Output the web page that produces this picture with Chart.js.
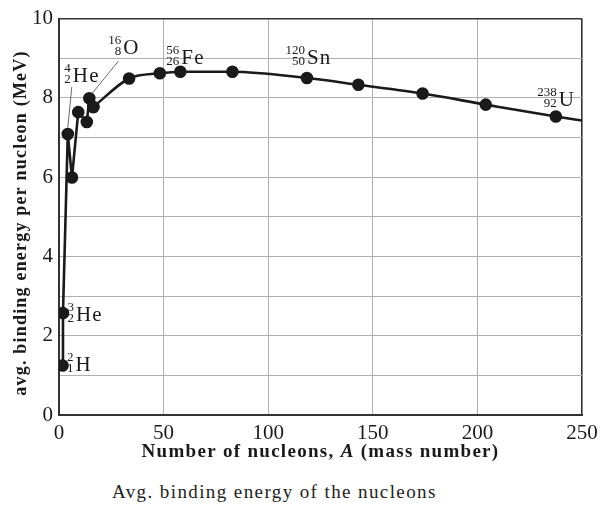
<!DOCTYPE html>
<html>
<head>
<meta charset="utf-8">
<script src="https://cdn.jsdelivr.net/npm/chart.js"></script>
<style>
  html, body { margin: 0; padding: 0; background: #fff; }
  #wrap { position: relative; width: 604px; height: 507px; }
  #caption {
    position: absolute; left: 112px; top: 481px;
    font-family: "Liberation Serif", "DejaVu Serif", serif;
    font-size: 19px; letter-spacing: 1.4px; color: #222; white-space: nowrap;
  }
</style>
</head>
<body>
<div id="wrap">
  <canvas id="bind" width="604" height="470"></canvas>
  <div id="caption">Avg. binding energy of the nucleons</div>
</div>
<script>
// values
const massNumbers = [1.7, 1.9, 4.2, 6.2, 9.2, 13.3, 14.5, 16.4, 33.5, 48.2, 58, 82.9, 118.5, 143.1, 173.8, 204, 237.5, 250];
const bindingEnergy = [1.25, 2.57, 7.09, 5.99, 7.64, 7.39, 7.99, 7.77, 8.49, 8.62, 8.66, 8.66, 8.5, 8.33, 8.11, 7.83, 7.53, 7.43];

// isotope labels: which point they belong to
const isoSymbol = ['H', 'He', 'He', 'O', 'Fe', 'Sn', 'U'];
const isoMass = ['2', '3', '4', '16', '56', '120', '238'];
const isoZ = ['1', '2', '2', '8', '26', '50', '92'];
const isoPoint = [0, 1, 2, 6, 10, 12, 16];

const xTicks = [0, 50, 100, 150, 200, 250];
const yTicks = [0, 2, 4, 6, 8, 10];

const xTitle = [['Number of nucleons, ', 'bold'], ['A', 'italic bold'], [' (mass number)', 'bold']];
const yTitle = 'avg. binding energy per nucleon (MeV)';

const splitAt = 7; // straight segments below, smooth curve above
const pts = massNumbers.map((a, i) => ({ x: a, y: bindingEnergy[i] }));
const lastIdx = pts.length - 1;

const serif = '"Liberation Serif", "DejaVu Serif", serif';
const ink = '#1a1a1a';

// label placement relative to each point: [dx to right edge of numbers, dy to symbol baseline, leader]
const labelOffsets = [
  [11, 6, null],
  [11, 8, null],
  [3, -52, [4, -47, 0, -6]],
  [32, -44, [29, -37, 2, -4]],
  [-1, -8, null],
  [-2, -14, null],
  [1, -11, null]
];

function spaced(ctx, px) {
  if ('letterSpacing' in ctx) ctx.letterSpacing = px + 'px';
}

const annotations = {
  id: 'annotations',
  afterDraw(chart) {
    const { ctx, scales, chartArea } = chart;
    ctx.save();
    ctx.fillStyle = ink;
    ctx.textBaseline = 'alphabetic';

    // isotope labels
    isoSymbol.forEach((sym, i) => {
      const p = pts[isoPoint[i]];
      const px = scales.x.getPixelForValue(p.x);
      const py = scales.y.getPixelForValue(p.y);
      const [dx, dy, lead] = labelOffsets[i];
      const nx = px + dx, base = py + dy;
      if (lead) {
        ctx.strokeStyle = '#444';
        ctx.lineWidth = 0.8;
        ctx.beginPath();
        ctx.moveTo(px + lead[0], py + lead[1]);
        ctx.lineTo(px + lead[2], py + lead[3]);
        ctx.stroke();
      }
      spaced(ctx, 0);
      ctx.font = '13px ' + serif;
      ctx.textAlign = 'right';
      ctx.fillText(isoMass[i], nx, base - 10);
      ctx.fillText(isoZ[i], nx, base + 1);
      spaced(ctx, 1.2);
      ctx.font = '21px ' + serif;
      ctx.textAlign = 'left';
      ctx.fillText(sym, nx + 2, base);
    });

    // x axis title with italic A
    spaced(ctx, 1.3);
    ctx.textAlign = 'left';
    let total = 0;
    const widths = xTitle.map(([t, w]) => {
      ctx.font = w + ' 19px ' + serif;
      const m = ctx.measureText(t).width;
      total += m;
      return m;
    });
    let x = (chartArea.left + chartArea.right) / 2 - total / 2;
    xTitle.forEach(([t, w], i) => {
      ctx.font = w + ' 19px ' + serif;
      ctx.fillText(t, x, 457);
      x += widths[i];
    });

    // y axis title
    spaced(ctx, 1.2);
    ctx.font = 'bold 18px ' + serif;
    ctx.textAlign = 'center';
    ctx.translate(26, 223);
    ctx.rotate(-Math.PI / 2);
    ctx.fillText(yTitle, 0, 0);
    ctx.restore();
  }
};

new Chart(document.getElementById('bind'), {
  type: 'line',
  data: {
    datasets: [
      {
        data: pts.slice(0, splitAt + 1),
        borderColor: ink,
        borderWidth: 2.6,
        tension: 0,
        pointRadius: 5,
        pointBackgroundColor: ink,
        pointBorderColor: ink
      },
      {
        data: pts.slice(splitAt),
        borderColor: ink,
        borderWidth: 2.6,
        cubicInterpolationMode: 'monotone',
        pointRadius: ctx => (ctx.dataIndex + splitAt === lastIdx ? 0 : 5),
        pointBackgroundColor: ink,
        pointBorderColor: ink
      }
    ]
  },
  options: {
    responsive: false,
    animation: false,
    layout: { padding: { top: 16, right: 22, left: 0, bottom: 0 } },
    plugins: { legend: { display: false }, tooltip: { enabled: false } },
    scales: {
      x: {
        type: 'linear',
        min: 0,
        max: 250,
        afterFit: s => { s.height = 55; },
        afterBuildTicks: s => { s.ticks = xTicks.map(v => ({ value: v })); },
        ticks: { padding: 6, color: ink, font: { family: serif, size: 21 } },
        grid: {
          drawTicks: false,
          color: c => (c.tick && c.tick.value === 250 ? '#333' : '#b0b0b0'),
          lineWidth: c => (c.tick && c.tick.value === 250 ? 1.6 : 1)
        },
        border: { color: '#333', width: 2 }
      },
      y: {
        min: 0,
        max: 10,
        afterFit: s => { s.width = 59; },
        ticks: {
          stepSize: 1,
          padding: 6,
          color: ink,
          font: { family: serif, size: 21 },
          callback: v => (yTicks.includes(v) ? v : '')
        },
        grid: {
          drawTicks: false,
          color: c => (c.tick && c.tick.value === 10 ? '#333' : '#b0b0b0'),
          lineWidth: c => (c.tick && c.tick.value === 10 ? 1.6 : 1)
        },
        border: { color: '#333', width: 2 }
      }
    }
  },
  plugins: [annotations]
});
</script>
</body>
</html>
